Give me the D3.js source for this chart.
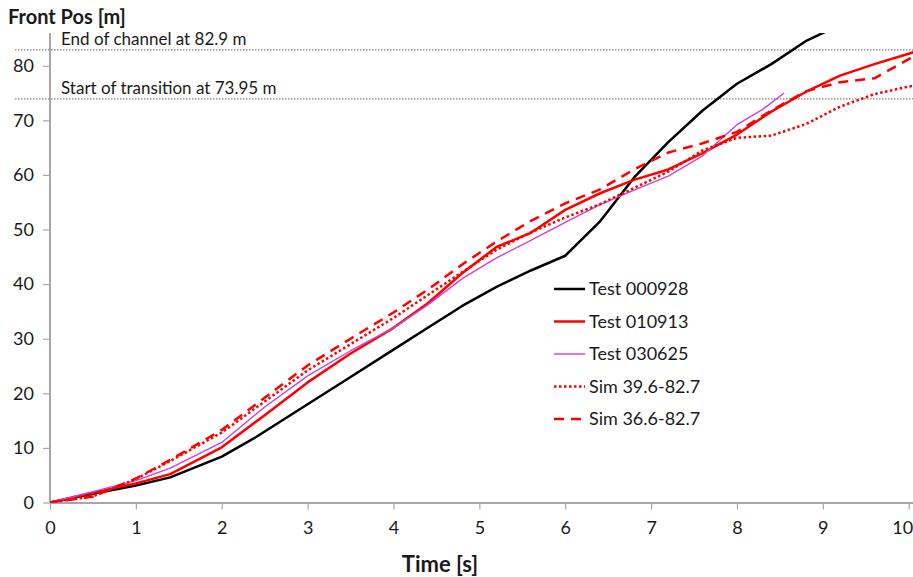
<!DOCTYPE html>
<html>
<head>
<meta charset="utf-8">
<script src="https://cdn.jsdelivr.net/npm/d3@7"></script>
<style>
	body { margin: 0; background: #fff; }
	text { font-family: Lato, "Open Sans", sans-serif; fill: #1a1a1a; }
</style>
</head>
<body>
<svg id="chart" width="913" height="577"></svg>
<script>
// time stamps [s] and front positions [m]
const tBlack = [0, 0.5, 1, 1.4, 2, 2.4, 3, 3.5, 4, 4.4, 4.8, 5.2, 5.6, 6, 6.4, 6.8, 7.2, 7.6, 8, 8.4, 8.8, 9.2];
const vBlack = [0, 1.6, 3.1, 4.6, 8.4, 12, 18, 23, 28, 32, 36, 39.5, 42.5, 45.2, 51.4, 59.5, 66, 71.8, 76.7, 80.3, 84.5, 87.5];

const tRed = [0, 0.5, 1, 1.4, 2, 2.5, 3, 3.5, 4, 4.4, 4.8, 5.2, 5.6, 6, 6.4, 6.8, 7.2, 7.6, 8, 8.4, 8.8, 9.2, 9.6, 10, 10.1];
const vRed = [0, 1.8, 3.5, 5.2, 10.1, 16, 22, 27.3, 32, 36.5, 42, 46.8, 49.4, 53.6, 56.6, 59.1, 61, 64, 67.4, 71.6, 75.2, 78.2, 80.3, 82.2, 82.7];

const tMag = [0, 0.5, 1, 1.4, 2, 2.5, 3, 3.5, 4, 4.4, 4.8, 5.2, 5.6, 6, 6.4, 6.8, 7.2, 7.6, 8, 8.3, 8.55];
const vMag = [0, 2, 4, 6.3, 11, 17.5, 23.2, 27.8, 32, 36.2, 41, 44.8, 48, 51.3, 54.5, 57.2, 59.8, 63.5, 69.2, 72, 75];

const tSim = [0, 0.5, 1, 1.4, 2, 2.5, 3, 3.5, 4, 4.4, 4.8, 5.2, 5.6, 6, 6.4, 6.8, 7.2, 7.6, 8, 8.4, 8.8, 9.2, 9.6, 10, 10.1];
const vSimDot = [0, 1.1, 4.3, 7.6, 12.8, 18.5, 24.2, 29, 33.8, 38, 42.2, 46.3, 49.5, 52.2, 54.6, 57.6, 60.6, 64.5, 66.8, 67.2, 69.3, 72.5, 74.8, 76.2, 76.4];
const vSimDash = [0, 1.1, 4.4, 7.8, 13.3, 19.2, 25.1, 30, 34.8, 39, 43.6, 47.8, 51.6, 54.8, 57.3, 61, 64.1, 65.8, 67.9, 71.8, 75.3, 77, 77.7, 81.2, 82];

const seriesNames = ["Test 000928", "Test 010913", "Test 030625", "Sim 39.6-82.7", "Sim 36.6-82.7"];
const xTicks = [0, 1, 2, 3, 4, 5, 6, 7, 8, 9, 10];
const yTicks = [0, 10, 20, 30, 40, 50, 60, 70, 80];
const refLines = [
	{ value: 82.9, label: "End of channel at 82.9 m" },
	{ value: 73.95, label: "Start of transition at 73.95 m" },
];

const series = [
	{ name: seriesNames[0], t: tBlack, v: vBlack, color: "#000000", width: 2.5, dash: null },
	{ name: seriesNames[1], t: tRed, v: vRed, color: "#ff0000", width: 2.5, dash: null },
	{ name: seriesNames[2], t: tMag, v: vMag, color: "#cc44cc", width: 1.4, dash: null },
	{ name: seriesNames[3], t: tSim, v: vSimDot, color: "#ff0000", width: 2.5, dash: "2.5,2.5" },
	{ name: seriesNames[4], t: tSim, v: vSimDash, color: "#ff0000", width: 2.5, dash: "10,7" },
];

const svg = d3.select("#chart");
const plotLeft = 50, plotRight = 913, plotTop = 33, plotBottom = 502.5;

const x = d3.scaleLinear().domain([0, 10.05]).range([plotLeft, plotRight]);
const y = d3.scaleLinear().domain([0, 86]).range([plotBottom, plotTop]);

svg.append("defs").append("clipPath").attr("id", "plot")
	.append("rect").attr("x", plotLeft).attr("y", plotTop)
	.attr("width", plotRight - plotLeft).attr("height", plotBottom - plotTop);

// reference lines
refLines.forEach((r) => {
	svg.append("line")
		.attr("x1", 15).attr("x2", plotRight)
		.attr("y1", y(r.value)).attr("y2", y(r.value))
		.attr("stroke", "#808080").attr("stroke-width", 1.2)
		.attr("stroke-dasharray", "1.5,1.5");
	svg.append("text")
		.attr("x", 61).attr("y", y(r.value) - 4.5)
		.style("font-size", "17px")
		.text(r.label);
});

// axes
const xAxis = svg.append("g")
	.attr("transform", `translate(0,${plotBottom})`)
	.call(d3.axisBottom(x).tickValues(xTicks).tickSize(7).tickSizeOuter(0));
const yAxis = svg.append("g")
	.attr("transform", `translate(${plotLeft},0)`)
	.call(d3.axisLeft(y).tickValues(yTicks).tickSize(7).tickSizeOuter(0));

[xAxis, yAxis].forEach((g) => {
	g.select(".domain").attr("stroke", "#a6a6a6").attr("stroke-width", 2);
	g.selectAll(".tick line").attr("stroke", "#a6a6a6").attr("stroke-width", 1.2);
	g.selectAll(".tick text").style("font-size", "18px").style("font-family", "Lato, sans-serif").attr("fill", "#1a1a1a");
});
yAxis.select(".domain").attr("d", `M0,${plotTop}V${plotBottom}`);
xAxis.selectAll(".tick text").attr("dy", "1.2em");
xAxis.selectAll(".tick text").filter((d) => d === 10).attr("text-anchor", "end").attr("dx", 4);
yAxis.selectAll(".tick text").attr("x", -16);

// series
const line = d3.line().x((d) => x(d[0])).y((d) => y(d[1]));
svg.append("g").attr("clip-path", "url(#plot)")
	.selectAll("path")
	.data(series)
	.join("path")
	.attr("d", (s) => line(s.t.map((t, i) => [t, s.v[i]])))
	.attr("fill", "none")
	.attr("stroke", (s) => s.color)
	.attr("stroke-width", (s) => s.width)
	.attr("stroke-dasharray", (s) => s.dash)
	.attr("stroke-linejoin", "round");

// legend
const legend = svg.append("g").attr("transform", "translate(554,289)");
const rows = legend.selectAll("g").data(series).join("g")
	.attr("transform", (d, i) => `translate(0,${i * 32.5})`);
rows.append("line")
	.attr("x1", 0).attr("x2", 31)
	.attr("stroke", (s) => s.color)
	.attr("stroke-width", (s) => s.width)
	.attr("stroke-dasharray", (s) => s.dash);
rows.append("text")
	.attr("x", 35).attr("dy", "0.35em")
	.style("font-size", "18px")
	.text((s) => s.name);

// titles
svg.append("text")
	.attr("x", 8).attr("y", 24)
	.style("font-size", "20px").style("font-weight", "bold")
	.attr("fill", "#000")
	.text("Front Pos [m]");
svg.append("text")
	.attr("x", 440).attr("y", 572)
	.attr("text-anchor", "middle")
	.style("font-size", "22px").style("font-weight", "bold")
	.attr("fill", "#000")
	.text("Time [s]");
</script>
</body>
</html>
